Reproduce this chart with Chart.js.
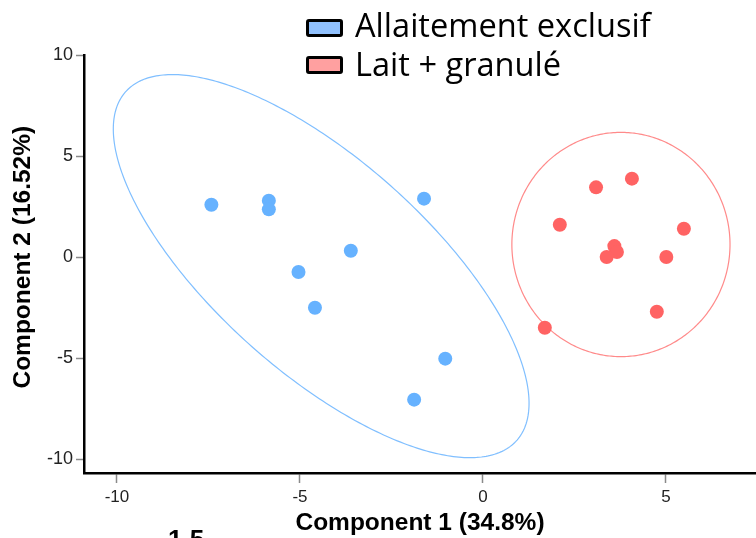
<!DOCTYPE html>
<html><head><meta charset="utf-8">
<script src="https://cdn.jsdelivr.net/npm/chart.js@4"></script>
<style>
html,body{margin:0;padding:0;background:#fff;overflow:hidden;}
#wrap{position:relative;width:756px;height:538px;overflow:hidden;}
#c{position:absolute;left:0;top:0;}
.legtxt{position:absolute;font-family:"Open Sans";font-size:32.6px;line-height:33px;color:#000;white-space:nowrap;}
.legbox{position:absolute;width:37px;height:18px;box-sizing:border-box;border:3px solid #000;border-radius:3px;}
.frag{position:absolute;left:168px;top:525.6px;font:bold 26px "Liberation Sans";line-height:26px;color:#000;}
</style></head><body>
<div id="wrap"><canvas id="c" width="756" height="538"></canvas>
<div id="legend"></div>
<div class="frag">1.5</div></div>
<script>
// ---- data ----
const seriesNames = ["Allaitement exclusif", "Lait + granulé"];
const blueX = [-7.42, -5.85, -5.85, -1.61, -3.61, -5.04, -4.59, -1.03, -1.88];
const blueY = [2.59, 2.79, 2.36, 2.89, 0.31, -0.74, -2.51, -5.03, -7.06];
const redX = [3.09, 4.07, 2.10, 5.49, 3.59, 3.66, 3.38, 5.01, 4.75, 1.69];
const redY = [3.45, 3.88, 1.60, 1.40, 0.54, 0.25, 0.00, 0.00, -2.71, -3.50];
// ellipse: [centerX, centerY, semiAxis1, semiAxis2, angleDeg]
const blueEllipse = [-4.42, -0.45, 10.45, 3.60, 116.6];
const redEllipse = [3.77, 0.62, 2.98, 5.55, 0];
const xTicks = [-10, -5, 0, 5];
const yTicks = [-10, -5, 0, 5, 10];
const xTitle = "Component 1 (34.8%)";
const yTitle = "Component 2 (16.52%)";

const pointColors = ["#66b2ff", "#ff6363"];
const ellipseColors = ["#80bfff", "#ff8a8a"];
const legendFills = ["#90c0fc", "#ffa0a0"];

// ---- legend (HTML) ----
const leg = document.getElementById('legend');
seriesNames.forEach((name, i) => {
  const b = document.createElement('div');
  b.className = 'legbox';
  b.style.left = '306px';
  b.style.top = (19 + i * 37) + 'px';
  b.style.background = legendFills[i];
  leg.appendChild(b);
  const t = document.createElement('div');
  t.className = 'legtxt';
  t.style.left = '355px';
  t.style.top = (7.9 + i * 39) + 'px';
  t.textContent = name;
  leg.appendChild(t);
});

const ellipsePlugin = {
  id: 'ellipses',
  beforeDatasetsDraw(chart) {
    const {ctx, scales: {x, y}} = chart;
    chart.data.datasets.forEach(ds => {
      const [cx, cy, a, b, ang] = ds.ellipse;
      const th = ang * Math.PI / 180;
      ctx.save();
      ctx.beginPath();
      for (let i = 0; i <= 360; i++) {
        const t = i * Math.PI / 180;
        const ex = a * Math.cos(t), ey = b * Math.sin(t);
        const dx = cx + ex * Math.cos(th) - ey * Math.sin(th);
        const dy = cy + ex * Math.sin(th) + ey * Math.cos(th);
        const px = x.getPixelForValue(dx), py = y.getPixelForValue(dy);
        if (i) ctx.lineTo(px, py); else ctx.moveTo(px, py);
      }
      ctx.closePath();
      ctx.strokeStyle = ds.ellipseColor;
      ctx.lineWidth = 1.2;
      ctx.stroke();
      ctx.restore();
    });
  }
};

const mk = (xs, ys) => xs.map((v, i) => ({x: v, y: ys[i]}));
const zeroPad = s => { s.paddingLeft = 0; s.paddingRight = 0; s.paddingTop = 0; s.paddingBottom = 0; };

new Chart(document.getElementById('c'), {
  type: 'scatter',
  data: {
    datasets: [
      {label: seriesNames[0], data: mk(blueX, blueY), backgroundColor: pointColors[0], borderWidth: 0,
       pointRadius: 7, ellipse: blueEllipse, ellipseColor: ellipseColors[0], clip: false},
      {label: seriesNames[1], data: mk(redX, redY), backgroundColor: pointColors[1], borderWidth: 0,
       pointRadius: 7, ellipse: redEllipse, ellipseColor: ellipseColors[1], clip: false}
    ]
  },
  options: {
    responsive: false,
    animation: false,
    devicePixelRatio: 1,
    layout: {autoPadding: false, padding: {top: 55, right: 0, left: 0, bottom: 0}},
    plugins: {legend: {display: false}, tooltip: {enabled: false}},
    scales: {
      x: {
        type: 'linear', min: -10.9, max: 7.46,
        afterBuildTicks: s => { s.ticks = xTicks.map(v => ({value: v})); },
        afterFit: s => { s.height = 65; zeroPad(s); },
        grid: {drawOnChartArea: false, drawTicks: true, tickLength: 10, tickColor: '#8a8a8a', tickWidth: 1.5},
        border: {color: '#000', width: 2.5},
        ticks: {color: '#222', font: {family: 'Liberation Sans', size: 17}, padding: 4, maxRotation: 0},
        title: {display: true, text: xTitle, color: '#000',
                font: {family: 'Liberation Sans', size: 24.5, weight: 'bold'}, padding: {top: 0, bottom: 0}}
      },
      y: {
        type: 'linear', min: -10.69, max: 10,
        afterBuildTicks: s => { s.ticks = yTicks.map(v => ({value: v})); },
        afterFit: s => { s.width = 84; zeroPad(s); },
        grid: {drawOnChartArea: false, drawTicks: true, tickLength: 8, tickColor: '#8a8a8a', tickWidth: 1.5},
        border: {color: '#000', width: 2.5},
        ticks: {color: '#222', font: {family: 'Liberation Sans', size: 18}, padding: 3},
        title: {display: true, text: "  " + yTitle, color: '#000',
                font: {family: 'Liberation Sans', size: 24.5, weight: 'bold'}, padding: {top: 9, bottom: 0}}
      }
    }
  },
  plugins: [ellipsePlugin]
});
</script>
</body></html>
